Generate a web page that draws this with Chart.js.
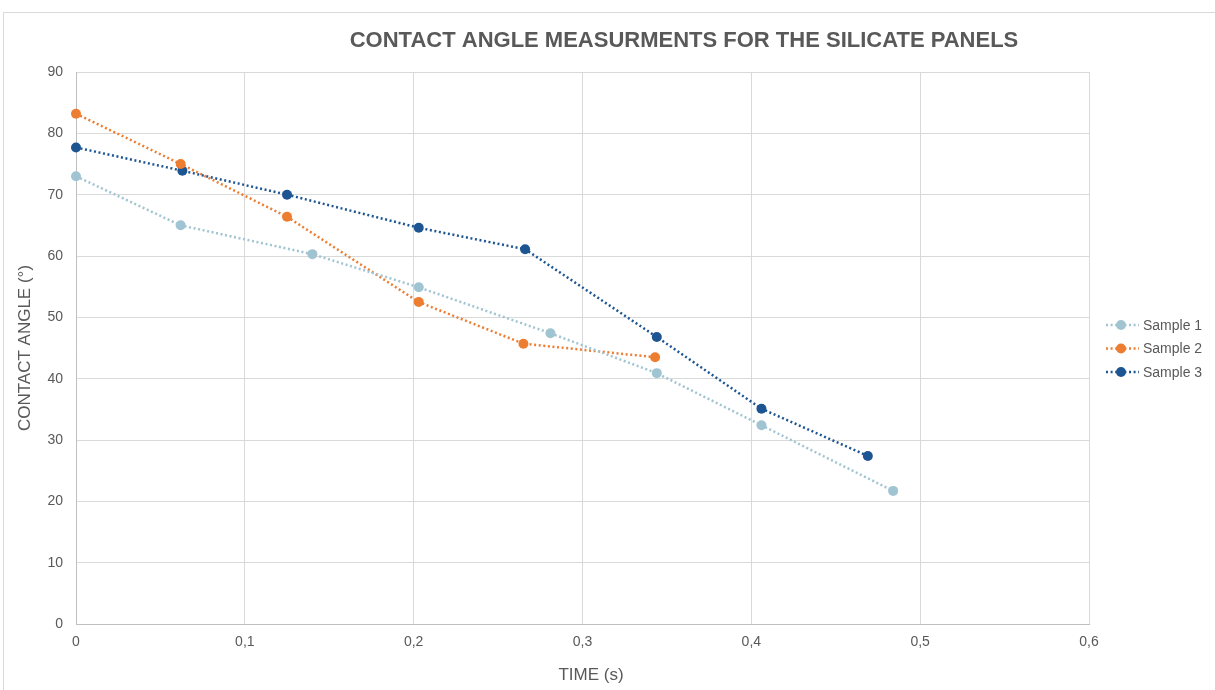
<!DOCTYPE html>
<html>
<head>
<meta charset="utf-8">
<script src="https://cdn.jsdelivr.net/npm/chart.js@4/dist/chart.umd.min.js"></script>
<style>
  html, body { margin: 0; padding: 0; background: #fff; }
  #wrap { width: 1215px; height: 690px; position: relative; }
</style>
</head>
<body>
<div id="wrap"><canvas id="chart" width="1215" height="690"></canvas></div>
<script>
// values
const seriesNames = ['Sample 1', 'Sample 2', 'Sample 3'];
const seriesColors = ['#a0c4d2', '#ed7d31', '#1c5591'];

const time1 = [0, 0.062, 0.140, 0.203, 0.281, 0.344, 0.406, 0.484];
const angle1 = [73.0, 65.0, 60.3, 54.9, 47.4, 40.9, 32.4, 21.7];

const time2 = [0, 0.062, 0.125, 0.203, 0.265, 0.343];
const angle2 = [83.2, 75.0, 66.4, 52.5, 45.7, 43.5];

const time3 = [0, 0.063, 0.125, 0.203, 0.266, 0.344, 0.406, 0.469];
const angle3 = [77.7, 73.9, 70.0, 64.6, 61.1, 46.8, 35.1, 27.4];

const titleText = 'CONTACT ANGLE MEASURMENTS FOR THE SILICATE PANELS';
const xTitle = 'TIME (s)';
const yTitle = 'CONTACT ANGLE (°)';

const FONT = '"Liberation Sans", Arial, sans-serif';
const GRAY = '#595959';

function pairs(xs, ys) {
  return xs.map((x, i) => ({ x: x, y: ys[i] }));
}

const allTimes = [time1, time2, time3];
const allAngles = [angle1, angle2, angle3];

const datasets = seriesNames.map((name, i) => ({
  label: name,
  data: pairs(allTimes[i], allAngles[i]),
  borderColor: seriesColors[i],
  backgroundColor: seriesColors[i],
  borderWidth: 2.5,
  borderDash: [2, 2.6],
  pointRadius: 5,
  pointHoverRadius: 5,
  pointBorderWidth: 0,
  showLine: true,
  clip: false,
  tension: 0
}));

// frame, title and legend
const decor = {
  id: 'decor',
  beforeDraw(chart) {
    const c = chart.ctx;
    c.save();
    c.fillStyle = '#fff';
    c.fillRect(0, 0, chart.width, chart.height);
    c.strokeStyle = '#d9d9d9';
    c.lineWidth = 1;
    c.strokeRect(3.5, 12.5, chart.width, chart.height);
    c.restore();
  },
  afterDraw(chart) {
    const c = chart.ctx;
    c.save();
    c.fillStyle = GRAY;
    c.font = 'bold 22px ' + FONT;
    c.textAlign = 'center';
    c.textBaseline = 'middle';
    c.fillText(titleText, 684, 41);

    // x axis title
    c.font = '17px ' + FONT;
    c.fillText(xTitle, 591, 675);

    c.font = '14px ' + FONT;
    c.textAlign = 'left';
    chart.data.datasets.forEach((ds, i) => {
      const y = 325 + i * 23.5;
      c.strokeStyle = ds.borderColor;
      c.lineWidth = 2.5;
      c.setLineDash([2, 2.6]);
      c.beginPath();
      c.moveTo(1106, y);
      c.lineTo(1139, y);
      c.stroke();
      c.setLineDash([]);
      c.fillStyle = ds.backgroundColor;
      c.beginPath();
      c.arc(1121, y, 5, 0, Math.PI * 2);
      c.fill();
      c.fillStyle = GRAY;
      c.fillText(ds.label, 1143, y + 1);
    });
    c.restore();
  }
};

new Chart(document.getElementById('chart'), {
  type: 'scatter',
  data: { datasets: datasets },
  options: {
    responsive: false,
    animation: false,
    layout: { padding: { top: 72, right: 126, left: 0, bottom: 0 } },
    plugins: {
      legend: { display: false },
      title: { display: false },
      tooltip: { enabled: false }
    },
    scales: {
      x: {
        type: 'linear',
        min: 0,
        max: 0.6,
        afterFit(s) { s.height = 66; },
        grid: { color: '#d9d9d9', drawTicks: false, lineWidth: 1 },
        border: { color: '#bfbfbf' },
        ticks: {
          stepSize: 0.1,
          padding: 10,
          color: GRAY,
          font: { family: FONT, size: 14 },
          callback: v => String(Math.round(v * 10) / 10).replace('.', ',')
        },
        title: { display: false }
      },
      y: {
        min: 0,
        max: 90,
        afterFit(s) { s.width = 76; },
        grid: { color: '#d9d9d9', drawTicks: false, lineWidth: 1 },
        border: { color: '#bfbfbf' },
        ticks: {
          stepSize: 10,
          padding: 13,
          color: GRAY,
          font: { family: FONT, size: 14 }
        },
        title: {
          display: true,
          text: yTitle,
          color: GRAY,
          font: { family: FONT, size: 17 },
          padding: { top: 15, bottom: 0 }
        }
      }
    }
  },
  plugins: [decor]
});
</script>
</body>
</html>
